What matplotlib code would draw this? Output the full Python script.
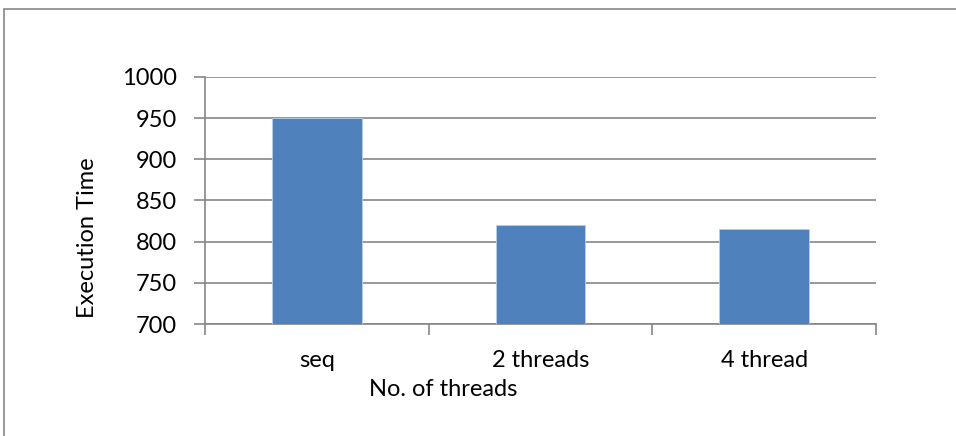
import matplotlib.pyplot as plt
from matplotlib.patches import Rectangle

# data
categories = ["seq", "2 threads", "4 thread"]
exec_time = [950, 820, 815]

plt.rcParams['font.family'] = ['Lato', 'DejaVu Sans']

fig = plt.figure(figsize=(9.56, 4.36), dpi=100)
ax = fig.add_axes([205 / 956, 1 - 324 / 436, (876 - 205) / 956, (324 - 77) / 436])

ax.bar(range(len(categories)), exec_time, width=0.4, color='#4f81bd',
       edgecolor='#b9cde5', linewidth=0.6, zorder=3)

ax.set_xlim(-0.5, len(categories) - 0.5)
ax.set_ylim(700, 1000)
ax.set_yticks(range(700, 1001, 50))
ax.yaxis.grid(True, color='#868686', linewidth=1.2, zorder=0)

# category boundaries ticks on x axis
ax.set_xticks([-0.5 + i for i in range(len(categories) + 1)])
ax.set_xticklabels([])
ax.set_xticks(range(len(categories)), minor=True)
ax.set_xticklabels(categories, minor=True)
ax.tick_params(axis='x', which='minor', length=0, pad=19, labelsize=17)
ax.tick_params(axis='x', which='major', length=8, color='#868686', width=1.2)
ax.tick_params(axis='y', length=8, color='#868686', width=1.2, labelsize=17, pad=12)

for side in ['top', 'right']:
    ax.spines[side].set_visible(False)
for side in ['left', 'bottom']:
    ax.spines[side].set_color('#868686')
    ax.spines[side].set_linewidth(1.2)

fig.text(87 / 956, 1 - 238 / 436, "Execution Time", rotation=90, ha='center', va='center', fontsize=17)
fig.text(443 / 956, 1 - 389 / 436, "No. of threads", ha='center', va='center', fontsize=17)

# chart border
fig.patches.append(Rectangle((4 / 956, -0.1), 1.2, 1 - 9 / 436 + 0.1, transform=fig.transFigure,
                             fill=False, edgecolor='#868686', linewidth=1.2))

fig.savefig("out.png", dpi=100)
